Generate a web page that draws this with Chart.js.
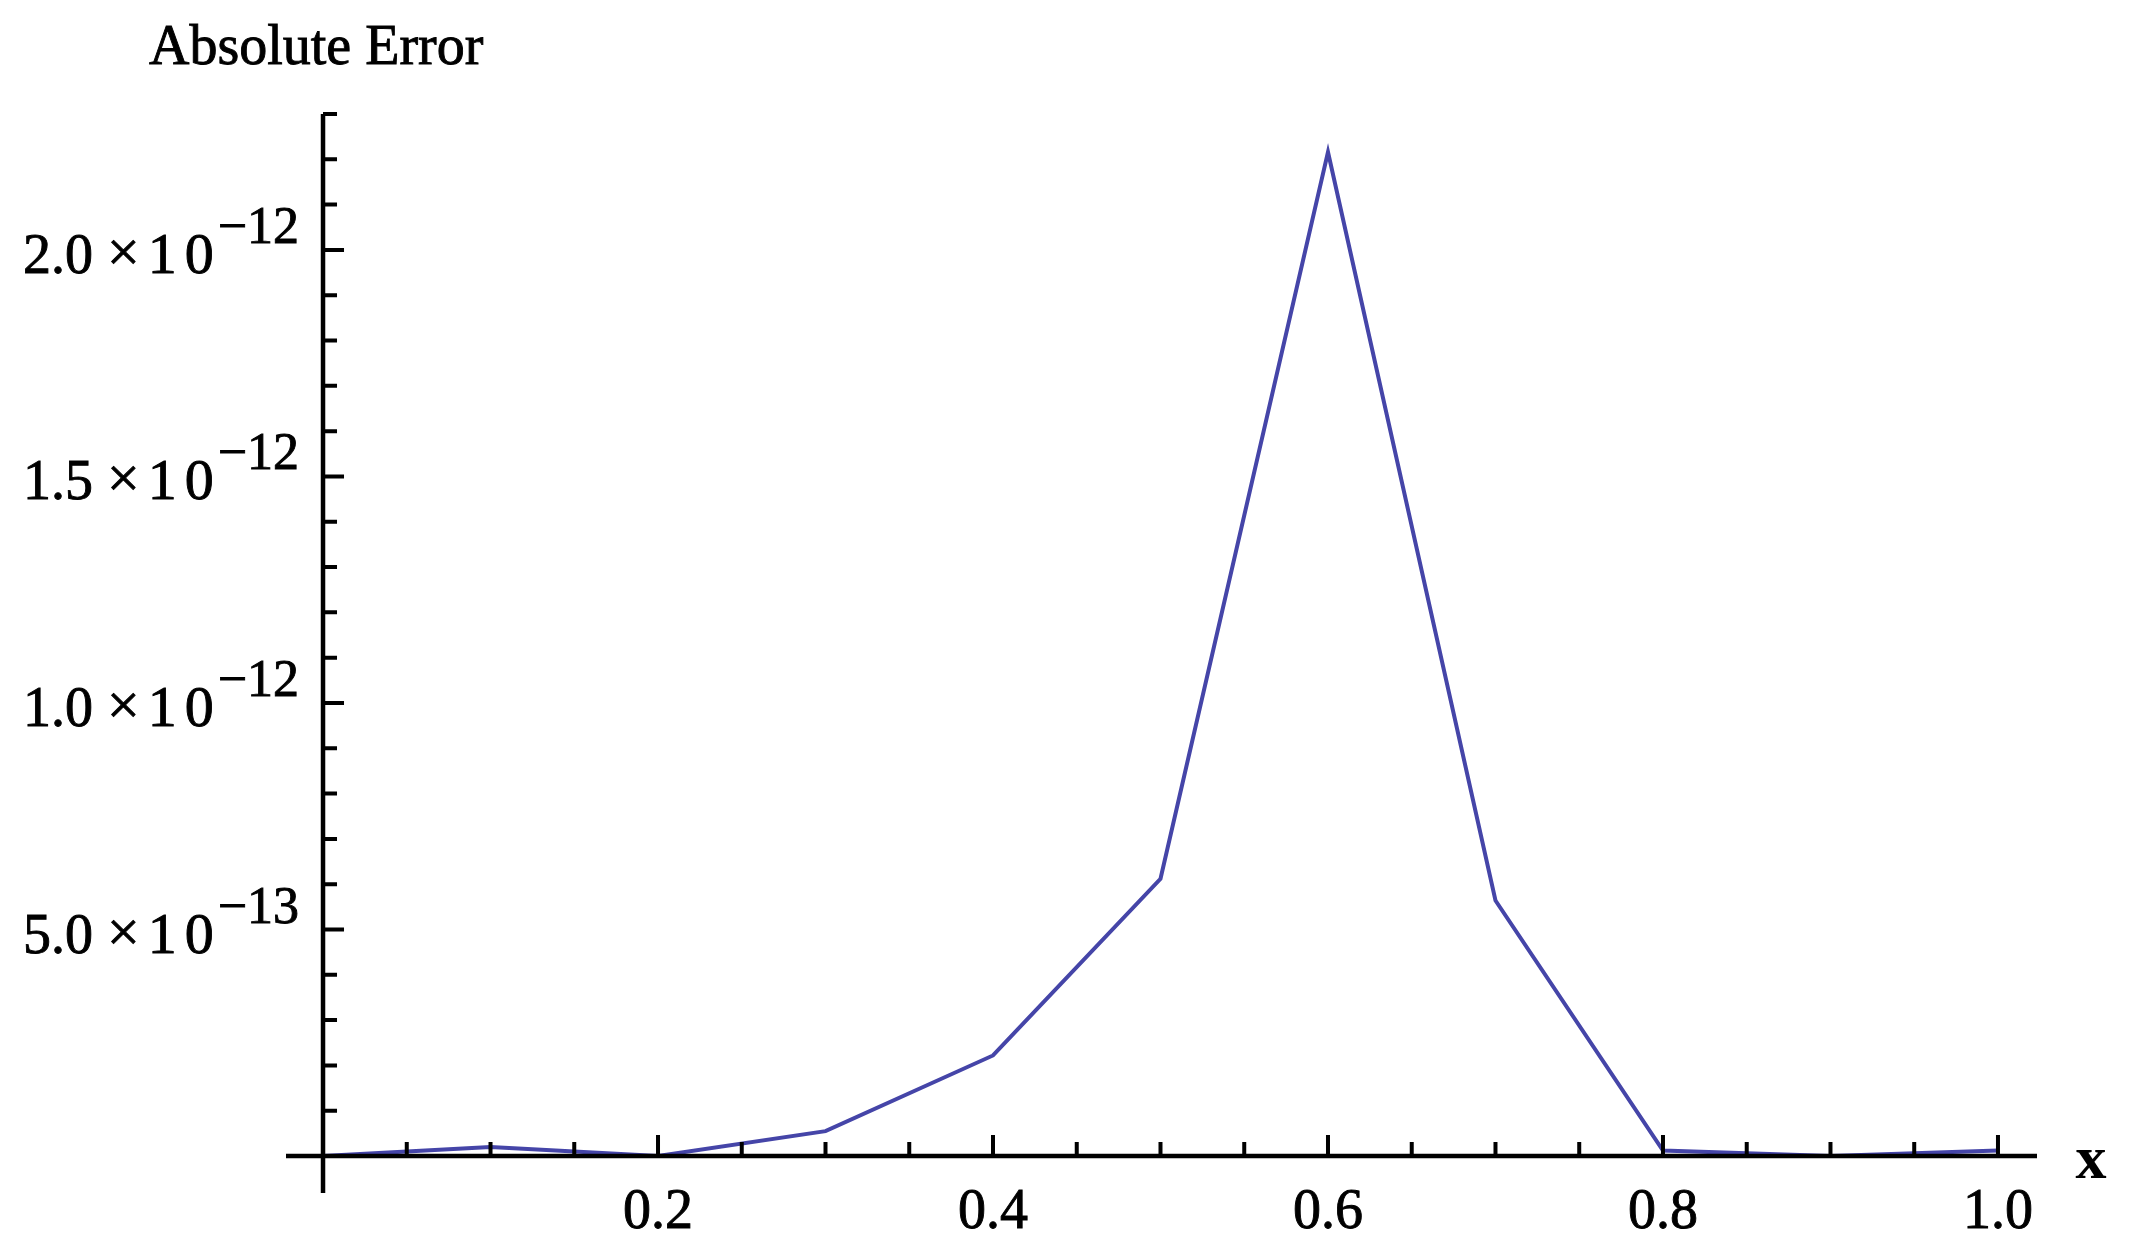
<!DOCTYPE html>
<html>
<head>
<meta charset="utf-8">
<title>Absolute Error</title>
<script src="https://cdn.jsdelivr.net/npm/chart.js@4.4.1/dist/chart.umd.min.js"></script>
<style>
	html, body { margin: 0; padding: 0; background: #fff; }
	canvas { display: block; }
</style>
</head>
<body>
<canvas id="errChart" width="2133" height="1258"></canvas>
<script>
// data
var xValues = [0, 0.1, 0.2, 0.3, 0.4, 0.5, 0.6, 0.7, 0.8, 0.9, 1.0];
var absError = [0, 0.02e-12, 0, 0.055e-12, 0.222e-12, 0.612e-12, 2.216e-12, 0.564e-12, 0.012e-12, 0, 0.012e-12];

// axis labels
var xTickValues = [0.2, 0.4, 0.6, 0.8, 1.0];
var xTickLabels = ["0.2", "0.4", "0.6", "0.8", "1.0"];
var yTickValues = [0.5e-12, 1.0e-12, 1.5e-12, 2.0e-12];
var yMantissas = ["5.0", "1.0", "1.5", "2.0"];
var yExponents = ["\u221213", "\u221212", "\u221212", "\u221212"];

(function(w, d) {
	var serif = "'Liberation Serif', 'Times New Roman', serif";

	var points = xValues.map(function(x, i) {
		return { x: x, y: absError[i] };
	});

	// fill + thin stroke, the original text looks a bit heavy
	function heavyText(ctx, txt, x, y) {
		ctx.fillText(txt, x, y);
		ctx.strokeText(txt, x, y);
	}

	// axes drawn Mathematica style: crossing at the origin, ticks inside
	var axesPlugin = {
		id: 'mmaAxes',
		afterDatasetsDraw: function(chart) {
			var ctx = chart.ctx, xs = chart.scales.x, ys = chart.scales.y, area = chart.chartArea;
			var x0 = xs.getPixelForValue(0), y0 = ys.getPixelForValue(0);
			var i, px, py, len;

			ctx.save();
			ctx.strokeStyle = '#000';
			ctx.lineCap = 'butt';
			ctx.lineWidth = 4.5;
			ctx.beginPath();
			ctx.moveTo(area.left, y0); ctx.lineTo(area.right, y0);
			ctx.moveTo(x0, area.top); ctx.lineTo(x0, area.bottom);
			ctx.stroke();

			ctx.lineWidth = 4;
			ctx.beginPath();
			for (i = 1; i <= 20; i++) {
				px = xs.getPixelForValue(i * 0.05);
				len = (i % 4 === 0) ? 21 : 14;
				ctx.moveTo(px, y0); ctx.lineTo(px, y0 - len);
			}
			for (i = 1; i <= 23; i++) {
				py = ys.getPixelForValue(i * 0.1e-12);
				len = (i % 5 === 0) ? 21 : 14;
				ctx.moveTo(x0, py); ctx.lineTo(x0 + len, py);
			}
			ctx.stroke();

			ctx.fillStyle = '#000';
			ctx.strokeStyle = '#000';
			ctx.lineWidth = 0.9;
			ctx.textBaseline = 'alphabetic';

			// x tick labels
			ctx.font = '56px ' + serif;
			ctx.textAlign = 'center';
			xTickValues.forEach(function(v, k) {
				heavyText(ctx, xTickLabels[k], xs.getPixelForValue(v), y0 + 72);
			});

			// y tick labels: m x 10^e
			ctx.textAlign = 'right';
			yTickValues.forEach(function(v, k) {
				var py = ys.getPixelForValue(v);
				var right = x0 - 24;
				ctx.font = '52px ' + serif;
				heavyText(ctx, yExponents[k], right, py - 7);
				right -= ctx.measureText(yExponents[k]).width + 4;
				ctx.font = '58px ' + serif;
				ctx.textAlign = 'left';
				var oneW = ctx.measureText('1').width, zeroW = ctx.measureText('0').width;
				heavyText(ctx, '0', right - zeroW, py + 23);
				heavyText(ctx, '1', right - zeroW - 8 - oneW, py + 23);
				right -= zeroW + 8 + oneW + 8;
				ctx.textAlign = 'right';
				ctx.font = '58px ' + serif;
				heavyText(ctx, '\u00d7', right, py + 21);
				right -= ctx.measureText('\u00d7').width + 14;
				ctx.font = '56px ' + serif;
				heavyText(ctx, yMantissas[k], right, py + 23);
			});

			// axis labels
			ctx.textAlign = 'left';
			ctx.font = '56px ' + serif;
			heavyText(ctx, 'Absolute Error', x0 - 174, area.top - 50);
			ctx.textAlign = 'center';
			ctx.font = 'bold 62px ' + serif;
			ctx.fillText('x', area.right + 54, y0 + 22);
			ctx.restore();
		}
	};

	var ctx = d.getElementById('errChart').getContext('2d');
	var errChart = new Chart(ctx, {
		type: 'line',
		data: {
			datasets: [{
				label: 'Absolute Error',
				data: points,
				borderColor: '#4545a8',
				borderWidth: 4,
				pointRadius: 0,
				fill: false,
				tension: 0
			}]
		},
		options: {
			responsive: false,
			animation: false,
			devicePixelRatio: 1,
			layout: { padding: { left: 286, right: 96, top: 114, bottom: 65 } },
			plugins: {
				legend: { display: false },
				tooltip: { enabled: false }
			},
			scales: {
				x: { type: 'linear', display: false, min: -0.0221, max: 1.0233 },
				y: { type: 'linear', display: false, min: -0.0816e-12, max: 2.3e-12 }
			}
		},
		plugins: [axesPlugin]
	});
})(window, document);
</script>
</body>
</html>
